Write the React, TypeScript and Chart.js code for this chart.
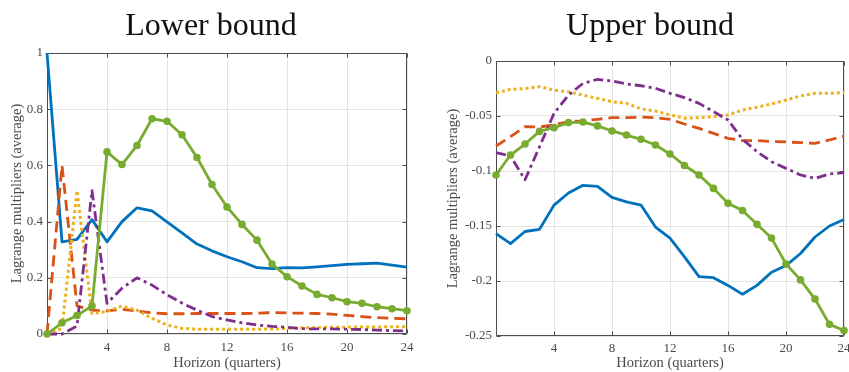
import React, { useEffect, useRef } from 'react';
import { Chart, registerables } from 'chart.js';

Chart.register(...registerables);

// ---------- data ----------
const horizon = [0, 1, 2, 3, 4, 5, 6, 7, 8, 9, 10, 11, 12, 13, 14, 15, 16, 17, 18, 19, 20, 21, 22, 23, 24];
const xTicks = [4, 8, 12, 16, 20, 24];

const panelTitles = ['Lower bound', 'Upper bound'];
const xAxisTitle = 'Horizon (quarters)';
const yAxisTitle = 'Lagrange multipliers (average)';

const lowerYTicks = [0, 0.2, 0.4, 0.6, 0.8, 1];
const upperYTicks = [-0.25, -0.2, -0.15, -0.1, -0.05, 0];

const blueLower = [1, 0.328, 0.337, 0.407, 0.328, 0.4, 0.449, 0.438, 0.399, 0.36, 0.32, 0.296, 0.275, 0.257, 0.236, 0.233, 0.236, 0.235, 0.239, 0.243, 0.248, 0.25, 0.252, 0.245, 0.238];
const orangeLower = [0, 0.6, 0.1, 0.085, 0.082, 0.088, 0.082, 0.075, 0.072, 0.072, 0.073, 0.073, 0.073, 0.073, 0.074, 0.076, 0.075, 0.074, 0.073, 0.071, 0.066, 0.062, 0.058, 0.056, 0.054];
const yellowLower = [0, 0.02, 0.51, 0.073, 0.08, 0.1, 0.085, 0.056, 0.032, 0.02, 0.017, 0.017, 0.017, 0.017, 0.017, 0.018, 0.02, 0.022, 0.023, 0.024, 0.024, 0.025, 0.025, 0.026, 0.026];
const purpleLower = [0, 0, 0.028, 0.51, 0.109, 0.163, 0.2, 0.174, 0.14, 0.11, 0.085, 0.062, 0.05, 0.04, 0.032, 0.027, 0.024, 0.019, 0.018, 0.018, 0.017, 0.016, 0.014, 0.012, 0.011];
const greenLower = [0, 0.04, 0.066, 0.1, 0.648, 0.603, 0.671, 0.766, 0.757, 0.709, 0.628, 0.532, 0.452, 0.39, 0.334, 0.249, 0.204, 0.171, 0.141, 0.129, 0.115, 0.109, 0.097, 0.09, 0.083];

const blueUpper = [-0.157, -0.166, -0.155, -0.153, -0.131, -0.12, -0.113, -0.114, -0.124, -0.128, -0.131, -0.151, -0.161, -0.178, -0.196, -0.197, -0.204, -0.212, -0.204, -0.192, -0.186, -0.175, -0.16, -0.15, -0.144];
const orangeUpper = [-0.0773, -0.0688, -0.0597, -0.06, -0.058, -0.055, -0.0545, -0.053, -0.0515, -0.0515, -0.051, -0.0515, -0.053, -0.0573, -0.0612, -0.0658, -0.0703, -0.0724, -0.0724, -0.0733, -0.0736, -0.0742, -0.0748, -0.0718, -0.0682];
const yellowUpper = [-0.0288, -0.0258, -0.025, -0.0233, -0.0264, -0.028, -0.031, -0.034, -0.037, -0.0385, -0.0435, -0.0455, -0.049, -0.052, -0.0515, -0.0506, -0.049, -0.0445, -0.042, -0.039, -0.0355, -0.0318, -0.0294, -0.0294, -0.0288];
const purpleUpper = [-0.0833, -0.0864, -0.108, -0.078, -0.0476, -0.031, -0.0203, -0.0167, -0.0182, -0.0209, -0.0225, -0.0248, -0.0294, -0.0333, -0.0385, -0.046, -0.0536, -0.0712, -0.0824, -0.0915, -0.0976, -0.1036, -0.1067, -0.1027, -0.1015];
const greenUpper = [-0.1036, -0.0855, -0.0755, -0.064, -0.0606, -0.056, -0.0555, -0.059, -0.0636, -0.0673, -0.0712, -0.0764, -0.0845, -0.095, -0.1036, -0.1158, -0.1294, -0.136, -0.1485, -0.161, -0.1845, -0.199, -0.2164, -0.2394, -0.245];

// ---------- styles ----------
const BLUE = '#0072BD';
const ORANGE = '#D95319';
const YELLOW = '#EDB120';
const PURPLE = '#7E2F8E';
const GREEN = '#77AC30';
const SERIF = '"Liberation Serif", "Times New Roman", serif';
const TEXT = '#4a4a4a';

type PanelSpec = {
  title: string;
  titleX: number;
  yMin: number;
  yMax: number;
  yStep: number;
  yTicks: number[];
  yWidth: number;
  yTitlePad: number;
  padTop: number;
  padRight: number;
  xHeight: number;
  xTickPad: number;
  series: number[][];
};

const fmt = (v: number) => String(Number(v.toFixed(4)));

function makeConfig(p: PanelSpec): any {
  const colors = [BLUE, ORANGE, YELLOW, PURPLE, GREEN];
  const dashes = [[], [11, 6], [3, 3], [10, 4, 3, 4], []];
  const orders = [4, 3, 2, 1, 0];
  const datasets = p.series.map((vals, k) => ({
    data: horizon.map((x, i) => ({ x, y: vals[i] })),
    borderColor: colors[k],
    backgroundColor: colors[k],
    borderWidth: k === 2 ? 3 : 2.8,
    borderDash: dashes[k],
    borderCapStyle: 'butt',
    borderJoinStyle: 'round',
    tension: 0,
    fill: false,
    clip: false,
    order: orders[k],
    pointRadius: k === 4 ? 3.8 : 0,
    pointBorderWidth: 0,
    pointBackgroundColor: colors[k],
  }));

  const framePlugin = {
    id: 'frame',
    beforeDatasetsDraw(chart: any) {
      const { ctx, chartArea: a, scales } = chart;
      const l = Math.round(a.left) + 0.5;
      const r = Math.round(a.right) - 0.5;
      const t = Math.round(a.top) + 0.5;
      const b = Math.round(a.bottom) - 0.5;
      ctx.save();
      ctx.lineWidth = 1;
      ctx.strokeStyle = '#4d4d4d';
      ctx.beginPath();
      ctx.moveTo(l, t); ctx.lineTo(r, t); ctx.lineTo(r, b); ctx.lineTo(l, b); ctx.closePath();
      ctx.stroke();
      const tl = 4;
      ctx.beginPath();
      for (const v of xTicks) {
        const x = Math.round(scales.x.getPixelForValue(v)) + 0.5;
        ctx.moveTo(x, b); ctx.lineTo(x, b - tl);
        ctx.moveTo(x, t); ctx.lineTo(x, t + tl);
      }
      for (const v of p.yTicks) {
        const y = Math.round(scales.y.getPixelForValue(v)) + 0.5;
        ctx.moveTo(l, y); ctx.lineTo(l + tl, y);
        ctx.moveTo(r, y); ctx.lineTo(r - tl, y);
      }
      ctx.stroke();
      ctx.restore();
    },
    afterDraw(chart: any) {
      const { ctx } = chart;
      ctx.save();
      ctx.fillStyle = '#111';
      ctx.font = `32px ${SERIF}`;
      ctx.textAlign = 'center';
      ctx.textBaseline = 'alphabetic';
      ctx.fillText(p.title, p.titleX, 35);
      ctx.restore();
    },
  };

  return {
    type: 'line',
    data: { datasets },
    plugins: [framePlugin],
    options: {
      animation: false,
      responsive: false,
      maintainAspectRatio: false,
      events: [],
      layout: { padding: { top: p.padTop, right: p.padRight, left: 0, bottom: 0 } },
      plugins: { legend: { display: false }, tooltip: { enabled: false }, title: { display: false } },
      scales: {
        x: {
          type: 'linear',
          min: 0,
          max: 24,
          border: { display: false },
          grid: { color: '#e4e4e4', lineWidth: 1, drawTicks: false },
          ticks: {
            stepSize: 4,
            padding: p.xTickPad,
            color: TEXT,
            font: { family: SERIF, size: 13 },
            maxRotation: 0,
            autoSkip: false,
            callback: (v: number) => (v === 0 ? '' : fmt(v)),
          },
          title: {
            display: true,
            text: xAxisTitle,
            color: TEXT,
            font: { family: SERIF, size: 14.5 },
            padding: { top: 0, bottom: 0 },
          },
          afterFit: (s: any) => {
            s.height = p.xHeight;
            s.paddingLeft = 0;
            s.paddingRight = 0;
          },
        },
        y: {
          type: 'linear',
          min: p.yMin,
          max: p.yMax,
          border: { display: false },
          grid: { color: '#e4e4e4', lineWidth: 1, drawTicks: false },
          ticks: {
            stepSize: p.yStep,
            padding: 4,
            color: TEXT,
            font: { family: SERIF, size: 13 },
            callback: (v: number) => fmt(v),
          },
          title: {
            display: true,
            text: yAxisTitle,
            color: TEXT,
            font: { family: SERIF, size: 14.5 },
            padding: { top: p.yTitlePad, bottom: 0 },
          },
          afterFit: (s: any) => {
            s.width = p.yWidth;
            s.paddingTop = 0;
            s.paddingBottom = 0;
          },
        },
      },
    },
  };
}

const lowerSpec: PanelSpec = {
  title: panelTitles[0],
  titleX: 211,
  yMin: 0,
  yMax: 1,
  yStep: 0.2,
  yTicks: lowerYTicks,
  yWidth: 47,
  yTitlePad: 8,
  padTop: 53,
  padRight: 18,
  xHeight: 38,
  xTickPad: 6,
  series: [blueLower, orangeLower, yellowLower, purpleLower, greenLower],
};

const upperSpec: PanelSpec = {
  title: panelTitles[1],
  titleX: 225,
  yMin: -0.25,
  yMax: 0,
  yStep: 0.05,
  yTicks: upperYTicks,
  yWidth: 71,
  yTitlePad: 19,
  padTop: 61,
  padRight: 5,
  xHeight: 36,
  xTickPad: 5,
  series: [blueUpper, orangeUpper, yellowUpper, purpleUpper, greenUpper],
};

function Panel({ spec, left, width }: { spec: PanelSpec; left: number; width: number }) {
  const ref = useRef<HTMLCanvasElement | null>(null);
  useEffect(() => {
    if (!ref.current) return;
    const chart = new Chart(ref.current, makeConfig(spec));
    return () => chart.destroy();
  }, [spec]);
  return (
    <canvas
      ref={ref}
      width={width}
      height={372}
      style={{ position: 'absolute', left, top: 0, width, height: 372, display: 'block' }}
    />
  );
}

export default function App() {
  return (
    <div style={{ position: 'absolute', left: 0, top: 0, width: 849, height: 372, background: '#fff', overflow: 'hidden' }}>
      <Panel spec={lowerSpec} left={0} width={425} />
      <Panel spec={upperSpec} left={425} width={424} />
    </div>
  );
}
